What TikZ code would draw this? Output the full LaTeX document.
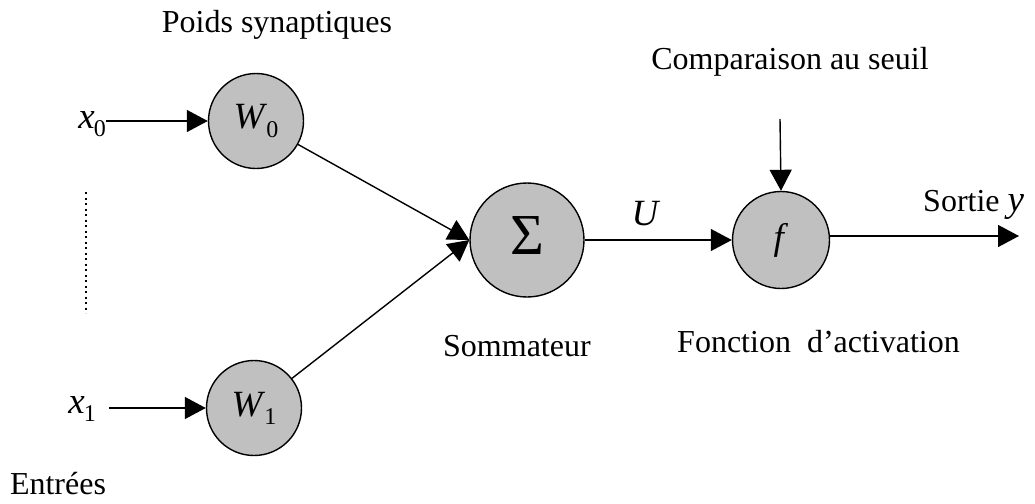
\documentclass[tikz,border=0pt]{standalone}
\usepackage{fontspec}
\setmainfont{Liberation Serif}
\usetikzlibrary{arrows.meta,positioning}
\definecolor{nodeFill}{HTML}{C0C0C0}
% italic letter with a lowered index, as the figure sets them
\newcommand{\varsub}[2]{\textit{#1}\kern-1pt\raisebox{-0.22em}{\fontsize{24}{26}\selectfont #2}}

\begin{document}
\begin{tikzpicture}[
    x=1pt, y=-1pt,
    font=\fontsize{32}{36}\selectfont,
    neuron/.style={
        circle, draw=black, line width=1.4pt,
        fill=nodeFill, minimum size=95pt, inner sep=0pt
    },
    varText/.style={font=\fontsize{37}{40}\selectfont},
    caption/.style={font=\fontsize{32}{36}\selectfont, inner sep=0pt},
    signal/.style={-{Triangle[length=21pt,width=22pt]}, line width=1.4pt}
]
\useasboundingbox (0,0) rectangle (1035,503);

% weights
\node[neuron, varText] (W0) at (256,121) {\varsub{W}{0}};
\node[neuron, varText] (W1) at (254,408) {\varsub{W}{1}};

% inputs
\node[varText, anchor=base east, inner sep=0pt] (x0) at (106,128) {\varsub{x}{0}};
\node[varText, anchor=base east, inner sep=0pt] (x1) at (96,413) {\varsub{x}{1}};
\coordinate (x1out) at (109,408);
\coordinate (dotTop) at (86,192);
\coordinate (dotBot) at (86,313);

% summation and activation
\node[neuron, minimum size=114pt, font=\fontsize{58}{60}\selectfont] (Sum) at (527,240) {\raisebox{8pt}{Σ}};
\node[neuron, minimum size=97pt, varText] (Act) at (781,240) {\textit{f}};
\coordinate (seuil) at (780,119);
\coordinate (yOut) at (1019,236);

% labels
\node[caption] (PoidsLabel) at (277,25) {Poids synaptiques};
\node[caption] (SeuilLabel) at (790,62) {Comparaison au seuil};
\node[varText, inner sep=0pt] (ULabel) at (646,214) {\textit{U}};
\node[caption, anchor=base west] (SortieLabel) at (923,211) {Sortie {\fontsize{37}{40}\selectfont\textit{y}}};
\node[caption, anchor=west] (SumLabel) at (443,346) {Sommateur};
\node[caption, anchor=west] (ActLabel) at (677,342) {Fonction\ \ d’activation};
\node[caption] (InLabel) at (58,484) {Entrées};

\draw[signal] (x0.base east |- W0.west) -- (W0.west);
\draw[signal] (x1out) -- (W1.west);
\draw[line width=2.3pt, dash pattern=on 2.3pt off 3.2pt] (dotTop) -- (dotBot);
\draw[signal] (W0) -- (Sum.west);
\draw[signal] (W1) -- (Sum.west);
\draw[signal] (Sum.east) -- (Act.west);
\draw[signal] (seuil) -- (Act.north);
\draw[signal] (Act.east |- yOut) -- (yOut);

\end{tikzpicture}
\end{document}
